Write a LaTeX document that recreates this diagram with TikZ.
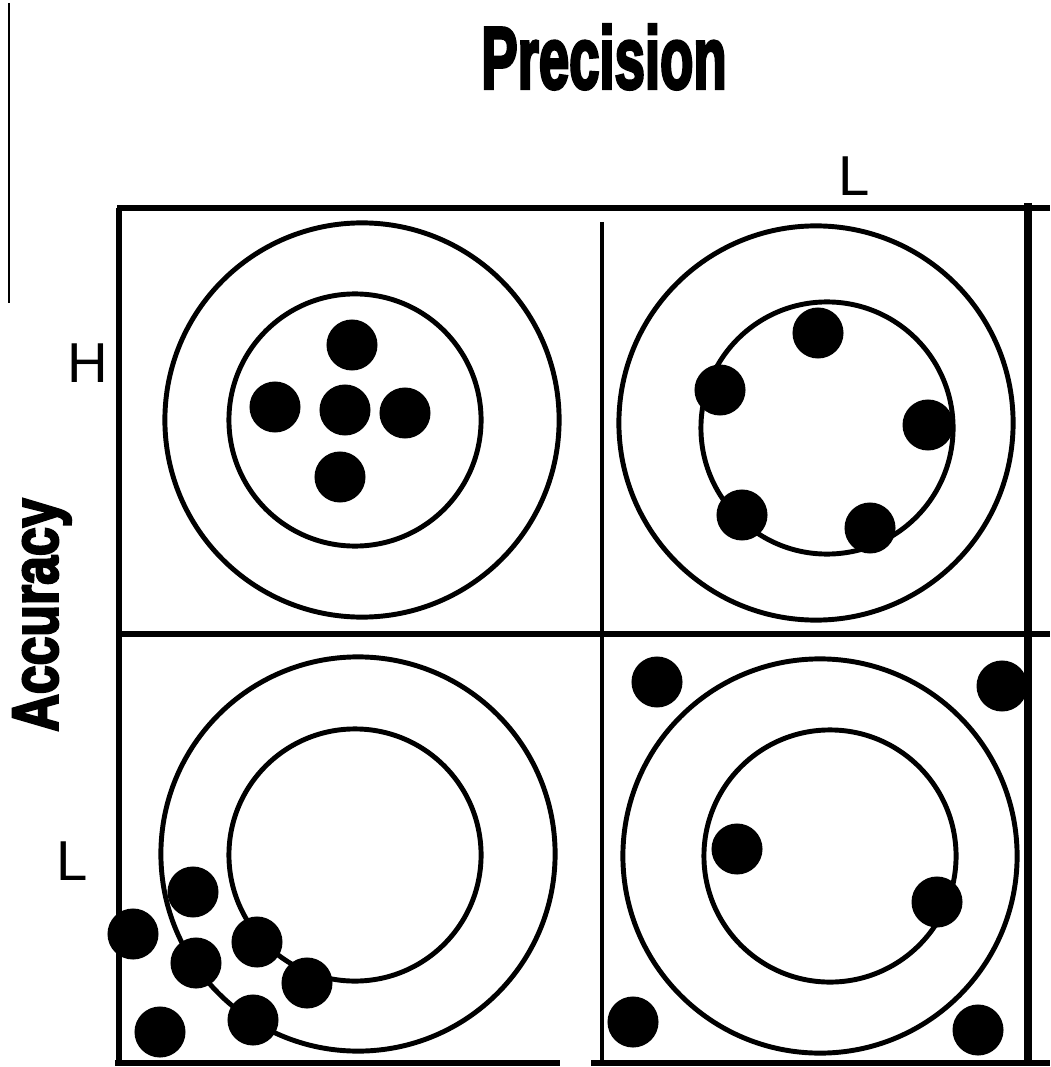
\documentclass[tikz,border=0pt]{standalone}
\usepackage{fontspec}
\usepackage{graphicx}
\setmainfont{Liberation Sans}
\newfontfamily\heavyfont[FakeBold=4]{Liberation Sans Bold}

\begin{document}
\begin{tikzpicture}[
  x=0.01cm, y=-0.01cm,
  frame/.style={line width=1.5pt},
  ring/.style={line width=1.4pt},
  pt/.style={fill=black},
  lvl/.style={font=\fontsize{16}{18}\selectfont, inner sep=0pt},
  head/.style={font=\heavyfont, inner sep=0pt}
]
\useasboundingbox (0,0) rectangle (1050,1067);
% ----- titles and levels -----
\node[head] (prec) at (604,57) {\fontsize{25}{28}\selectfont\scalebox{0.62}[1]{Precision}};
\node[head, rotate=90] (acc) at (42,615) {\fontsize{18.4}{22}\selectfont\scalebox{0.8}[1]{Accuracy}};
\node[lvl] (phigh) at (854,176) {L};
\node[lvl] (ahigh) at (88,363) {H};
\node[lvl] (alow)  at (72,861) {L};
\draw[line width=0.6pt] (9,3) -- (9,303);
% ----- grid -----
\draw[frame] (117,208) -- (1050,208);
\draw[frame] (117,634) -- (1050,634);
\draw[frame] (115,1063) -- (560,1063);
\draw[frame] (591,1063) -- (1050,1063);
\draw[frame] (119,208) -- (119,1065);
\draw[line width=1pt] (602,222) -- (602,1065);
\draw[line width=2.4pt] (1028,203) -- (1028,1065);
% ----- targets -----
\foreach \cx/\cy/\ix/\iy in {362/420/355/420, 816/423/827/428, 358/854/355/855, 820/856/830/856}{
  \draw[ring] (\cx,\cy) circle[radius=1.97cm];
  \draw[ring] (\ix,\iy) circle[radius=1.26cm];
}
% ----- shots -----
\foreach \px/\py in {352/345, 275/407, 345/410, 405/413, 340/477,
                     818/333, 720/390, 928/425, 742/515, 870/528,
                     193/892, 133/934, 257/942, 196/963, 307/983, 160/1032, 253/1020,
                     657/682, 1002/686, 737/849, 937/902, 633/1022, 978/1030}
  \fill[pt] (\px,\py) circle[radius=0.255cm];
\end{tikzpicture}
\end{document}
